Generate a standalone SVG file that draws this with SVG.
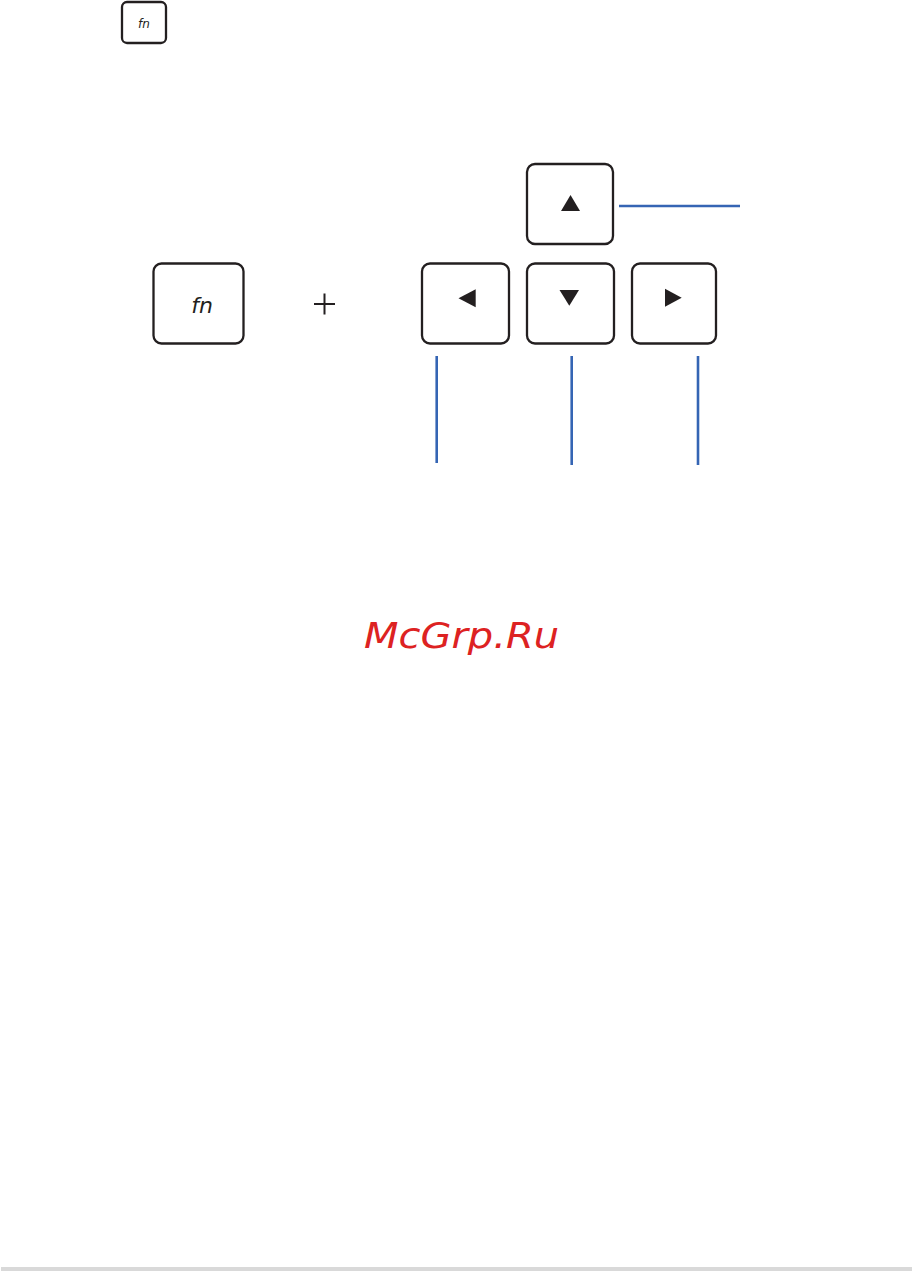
<svg xmlns="http://www.w3.org/2000/svg" width="912" height="1271" viewBox="0 0 912 1271">
<style>
.key{fill:#fff;stroke:#231f20;stroke-width:2.3}
.glyph{fill:#231f20}
.fn{font-family:"DejaVu Sans",sans-serif;font-style:italic;fill:#231f20}
.lead{stroke:#3565b4;stroke-width:2.6;fill:none}
</style>
<rect width="912" height="1271" fill="#fff"/>
<g id="fn-small">
<rect class="key" x="122" y="2" width="44" height="41" rx="5"/>
<text class="fn" x="144" y="28" font-size="12" text-anchor="middle">fn</text>
</g>
<g id="fn-key">
<rect class="key" x="153.5" y="263.5" width="90" height="80" rx="8"/>
<text class="fn" x="202" y="313" font-size="22" text-anchor="middle">fn</text>
</g>
<g id="plus">
<path d="M314 304H335M324.5 293.5V314.5" stroke="#231f20" stroke-width="2" fill="none"/>
</g>
<g id="key-up">
<rect class="key" x="527" y="164" width="86" height="80" rx="8"/>
<polygon class="glyph" points="561,211 580,211 570.5,195"/>
</g>
<g id="key-left">
<rect class="key" x="422" y="263.5" width="87" height="80" rx="8"/>
<polygon class="glyph" points="458.5,298.3 475.7,289.3 475.7,307.3"/>
</g>
<g id="key-down">
<rect class="key" x="527" y="263.5" width="87" height="80" rx="8"/>
<polygon class="glyph" points="559.5,290 579,290 569.3,305.7"/>
</g>
<g id="key-right">
<rect class="key" x="632" y="263.5" width="84" height="80" rx="8"/>
<polygon class="glyph" points="665,288.7 681.7,297.7 665,306.7"/>
</g>
<g id="connectors">
<line class="lead" x1="619" y1="206" x2="740" y2="206"/>
<line class="lead" x1="436.7" y1="356" x2="436.7" y2="463"/>
<line class="lead" x1="571.7" y1="356" x2="571.7" y2="465"/>
<line class="lead" x1="698" y1="356" x2="698" y2="465"/>
</g>
<text x="364" y="648" font-family="DejaVu Sans,sans-serif" font-style="italic" font-size="35" fill="#dd2222" textLength="195" lengthAdjust="spacingAndGlyphs">McGrp.Ru</text>
<rect x="1" y="1267" width="911" height="4" fill="#d9d9d9"/>
</svg>
